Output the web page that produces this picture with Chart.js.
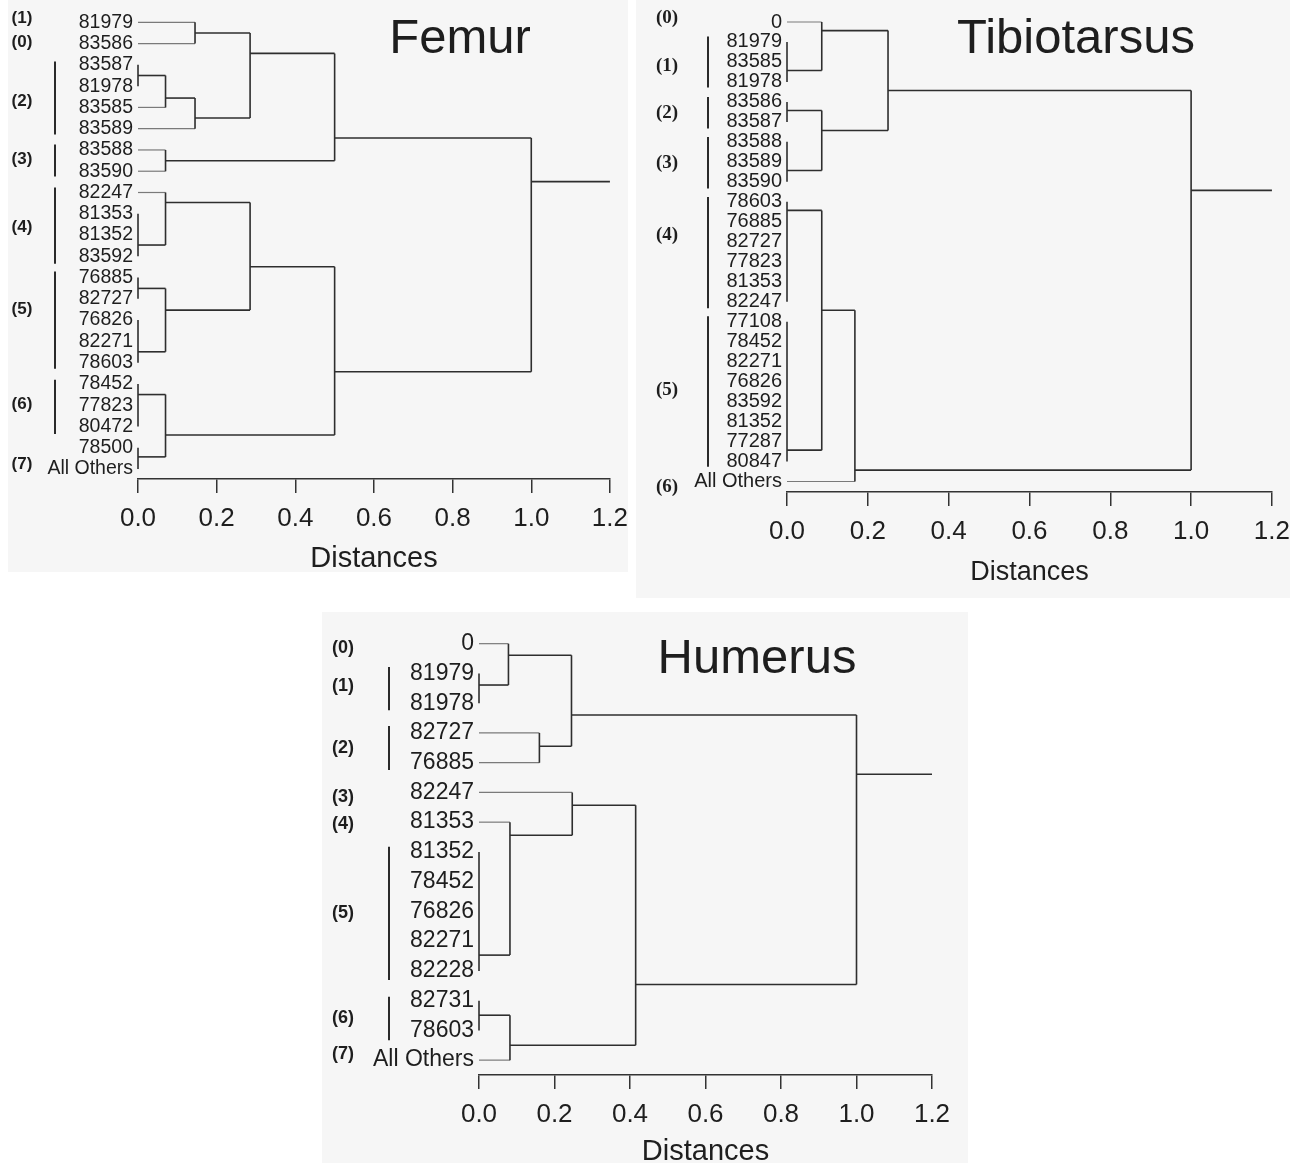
<!DOCTYPE html>
<html><head><meta charset="utf-8">
<script src="https://cdn.jsdelivr.net/npm/chart.js@4.4.1/dist/chart.umd.min.js"></script>
<style>
html,body{margin:0;padding:0;background:#fff;overflow:hidden;width:1298px;height:1163px;}
.panel{position:absolute;background:#f6f6f6;}
.wrap{position:absolute;}
canvas{display:block;}
</style></head><body>
<div class="panel" style="left:8px;top:0;width:620px;height:572px"></div>
<div class="panel" style="left:636px;top:0;width:654px;height:598px"></div>
<div class="panel" style="left:322px;top:612px;width:646px;height:551px"></div>
<div class="wrap" style="left:8px;top:-5px"><canvas id="femur" width="630" height="587"></canvas></div>
<div class="wrap" style="left:636px;top:-5px"><canvas id="tibio" width="664" height="615"></canvas></div>
<div class="wrap" style="left:322px;top:610px"><canvas id="humerus" width="646" height="572"></canvas></div>
<script>
// ---------- DATA ----------
const distanceTicks = [0, 0.2, 0.4, 0.6, 0.8, 1.0, 1.2];
const rootTo = 1.2;

// Femur
const femurLeaves = ['81979','83586','83587','81978','83585','83589','83588','83590','82247','81353','81352','83592','76885','82727','76826','82271','78603','78452','77823','80472','78500','All Others'];
const femurMerges = [[0,1],[2,3],['n1',4],['n2',5],['n0','n3'],[6,7],['n4','n5'],[9,10,11],[8,'n7'],[12,13],[14,15,16],['n9','n10'],['n8','n11'],[17,18,19],[20,21],['n13','n14'],['n12','n15'],['n6','n16']];
const femurHeights = [0.145,0,0.07,0.145,0.285,0.07,0.5,0,0.07,0,0,0.07,0.285,0,0,0.07,0.5,1.0];
const femurLinkY = [0.5,2.5,3.56,4.5,1.46,6.51,5.44,10.47,8.47,12.51,15.49,13.53,11.49,17.5,20.43,19.4,16.43,7.49];
const femurGroups = ['(1)','(0)','(2)','(3)','(4)','(5)','(6)','(7)'];
const femurGroupAt = [-0.19,0.94,3.72,6.45,9.65,13.5,17.98,20.76];
const femurBarFrom = [null,null,1.84,5.74,7.77,11.72,16.8,null];
const femurBarTo = [null,null,5.27,7.25,11.35,16.29,19.35,null];

// Tibiotarsus
const tibioLeaves = ['0','81979','83585','81978','83586','83587','83588','83589','83590','78603','76885','82727','77823','81353','82247','77108','78452','82271','76826','83592','81352','77287','80847','All Others'];
const tibioMerges = [[1,2,3],[0,'n0'],[4,5],[6,7,8],['n2','n3'],['n1','n4'],[9,10,11,12,13,14],[15,16,17,18,19,20,21,22],['n6','n7'],['n8',23],['n5','n9']];
const tibioHeights = [0,0.086,0,0,0.086,0.25,0,0,0.086,0.168,1.0];
const tibioLinkY = [2.43,0.43,4.43,7.43,5.43,3.43,9.43,21.43,14.43,22.43,8.43];
const tibioGroups = ['(0)','(1)','(2)','(3)','(4)','(5)','(6)'];
const tibioGroupAt = [-0.22,2.23,4.58,7.08,10.68,18.43,23.28];
const tibioBarFrom = [null,0.73,3.76,5.76,8.76,14.73,null];
const tibioBarTo = [null,3.28,5.33,8.33,14.33,22.26,null];

// Humerus
const humerusLeaves = ['0','81979','81978','82727','76885','82247','81353','81352','78452','76826','82271','82228','82731','78603','All Others'];
const humerusMerges = [[1,2],[0,'n0'],[3,4],['n1','n2'],[7,8,9,10,11],[6,'n4'],[5,'n5'],[12,13],['n7',14],['n6','n8'],['n3','n9']];
const humerusHeights = [0,0.078,0.16,0.245,0,0.082,0.247,0,0.082,0.415,1.0];
const humerusLinkY = [1.39,0.39,3.45,2.4,10.47,6.44,5.43,12.49,13.5,11.46,4.39];
const humerusGroups = ['(0)','(1)','(2)','(3)','(4)','(5)','(6)','(7)'];
const humerusGroupAt = [0.15,1.43,3.5,5.16,6.07,9.06,12.59,13.8];
const humerusBarFrom = [null,0.78,2.77,null,null,6.83,11.87,null];
const humerusBarTo = [null,2.24,4.25,null,null,11.31,13.33,null];

// ---------- BUILD ----------
const SANS = "'Liberation Sans', Arial, Helvetica, sans-serif";
const SERIF = "'Liberation Serif', 'Times New Roman', serif";
const INK = '#1e1e1e';

function buildLines(merges, heights, linkY) {
  const lines = [];
  const pos = ref => typeof ref === 'number'
    ? {h: 0, y: ref, leaf: true}
    : {h: heights[+ref.slice(1)], y: linkY[+ref.slice(1)], leaf: false};
  merges.forEach((kids, k) => {
    const h = heights[k];
    const cs = kids.map(pos);
    const ys = cs.map(c => c.y);
    lines.push({pts: [{x: h, y: Math.min(...ys)}, {x: h, y: Math.max(...ys)}], leaf: false});
    cs.forEach(c => {
      if (h > c.h) lines.push({pts: [{x: c.h, y: c.y}, {x: h, y: c.y}], leaf: c.leaf});
    });
  });
  const r = merges.length - 1;
  lines.push({pts: [{x: heights[r], y: linkY[r]}, {x: rootTo, y: linkY[r]}], leaf: false});
  return lines;
}

function makeChart(id, d, L) {
  const lines = buildLines(d.merges, d.heights, d.linkY);
  const datasets = lines.map(l => ({
    data: l.pts, showLine: true,
    borderColor: l.leaf ? '#7a7a7a' : '#2e2e2e',
    borderWidth: l.leaf ? 1.2 : 1.6,
    pointRadius: 0, pointHoverRadius: 0, fill: false, clip: false, tension: 0
  }));
  const decor = {
    id: 'decor_' + id,
    afterDraw(chart) {
      const ctx = chart.ctx, ys = chart.scales.y, left = chart.chartArea.left;
      ctx.save();
      ctx.strokeStyle = '#2a2a2a'; ctx.lineWidth = 2;
      d.barFrom.forEach((f, i) => {
        if (f === null) return;
        ctx.beginPath();
        ctx.moveTo(left + L.barX, ys.getPixelForValue(f));
        ctx.lineTo(left + L.barX, ys.getPixelForValue(d.barTo[i]));
        ctx.stroke();
      });
      ctx.fillStyle = INK; ctx.textAlign = 'center'; ctx.textBaseline = 'middle';
      ctx.font = 'bold ' + L.groupSize + 'px ' + L.groupFont;
      d.groups.forEach((g, i) => ctx.fillText(g, left + L.labelX, ys.getPixelForValue(d.groupAt[i])));
      ctx.font = L.titleSize + 'px ' + SANS;
      ctx.fillText(d.title, L.titleX, L.titleY);
      ctx.restore();
    }
  };
  return new Chart(document.getElementById(id), {
    type: 'scatter',
    data: {datasets},
    options: {
      responsive: false, animation: false, devicePixelRatio: 1, events: [],
      layout: {padding: {top: 0, right: L.padRight, left: 0, bottom: 0}},
      plugins: {legend: {display: false}, tooltip: {enabled: false}},
      scales: {
        x: {
          type: 'linear', position: 'bottom', min: 0, max: 1.2,
          afterBuildTicks: s => { s.ticks = distanceTicks.map(v => ({value: v})); },
          ticks: {callback: v => Number(v).toFixed(1), font: {family: SANS, size: L.tickSize}, color: INK,
                  padding: L.tickPad, maxRotation: 0, minRotation: 0, autoSkip: false},
          grid: {drawOnChartArea: false, drawTicks: true, tickLength: 14, color: '#333', lineWidth: 1.5},
          border: {display: true, color: '#333', width: 1.5},
          title: {display: true, text: 'Distances', color: INK, font: {family: SANS, size: L.axisTitleSize},
                  padding: {top: 0, bottom: L.axisTitlePad}},
          afterFit: s => { s.height = L.xAxisH; }
        },
        y: {
          type: 'linear', reverse: true, min: -0.5, max: L.yMax,
          afterBuildTicks: s => { s.ticks = d.leaves.map((_, i) => ({value: i})); },
          ticks: {callback: v => d.leaves[v], autoSkip: false, color: INK, padding: 5,
                  font: {family: SANS, size: L.leafSize}},
          grid: {display: false, drawTicks: false},
          border: {display: false},
          afterFit: s => { s.width = L.yAxisW; }
        }
      }
    },
    plugins: [decor]
  });
}

makeChart('femur',
  {leaves: femurLeaves, merges: femurMerges, heights: femurHeights, linkY: femurLinkY,
   groups: femurGroups, groupAt: femurGroupAt, barFrom: femurBarFrom, barTo: femurBarTo, title: 'Femur'},
  {padRight: 0, yAxisW: 130, xAxisH: 103, yMax: 21.47, leafSize: 19.5,
   tickSize: 26, tickPad: 10, axisTitleSize: 29, axisTitlePad: 5.6,
   barX: -83, labelX: -116, groupSize: 17, groupFont: SANS, titleSize: 49, titleX: 452, titleY: 44});

makeChart('tibio',
  {leaves: tibioLeaves, merges: tibioMerges, heights: tibioHeights, linkY: tibioLinkY,
   groups: tibioGroups, groupAt: tibioGroupAt, barFrom: tibioBarFrom, barTo: tibioBarTo, title: 'Tibiotarsus'},
  {padRight: 0, yAxisW: 151, xAxisH: 118, yMax: 23.525, leafSize: 20,
   tickSize: 26, tickPad: 10, axisTitleSize: 27, axisTitlePad: 20.8,
   barX: -79, labelX: -120, groupSize: 19, groupFont: SERIF, titleSize: 49, titleX: 440, titleY: 44});

makeChart('humerus',
  {leaves: humerusLeaves, merges: humerusMerges, heights: humerusHeights, linkY: humerusLinkY,
   groups: humerusGroups, groupAt: humerusGroupAt, barFrom: humerusBarFrom, barTo: humerusBarTo, title: 'Humerus'},
  {padRight: 36, yAxisW: 157, xAxisH: 107, yMax: 14.5, leafSize: 23,
   tickSize: 26, tickPad: 10, axisTitleSize: 29, axisTitlePad: 12.6,
   barX: -90, labelX: -136, groupSize: 18, groupFont: SANS, titleSize: 49, titleX: 435, titleY: 49});
</script>
</body></html>
